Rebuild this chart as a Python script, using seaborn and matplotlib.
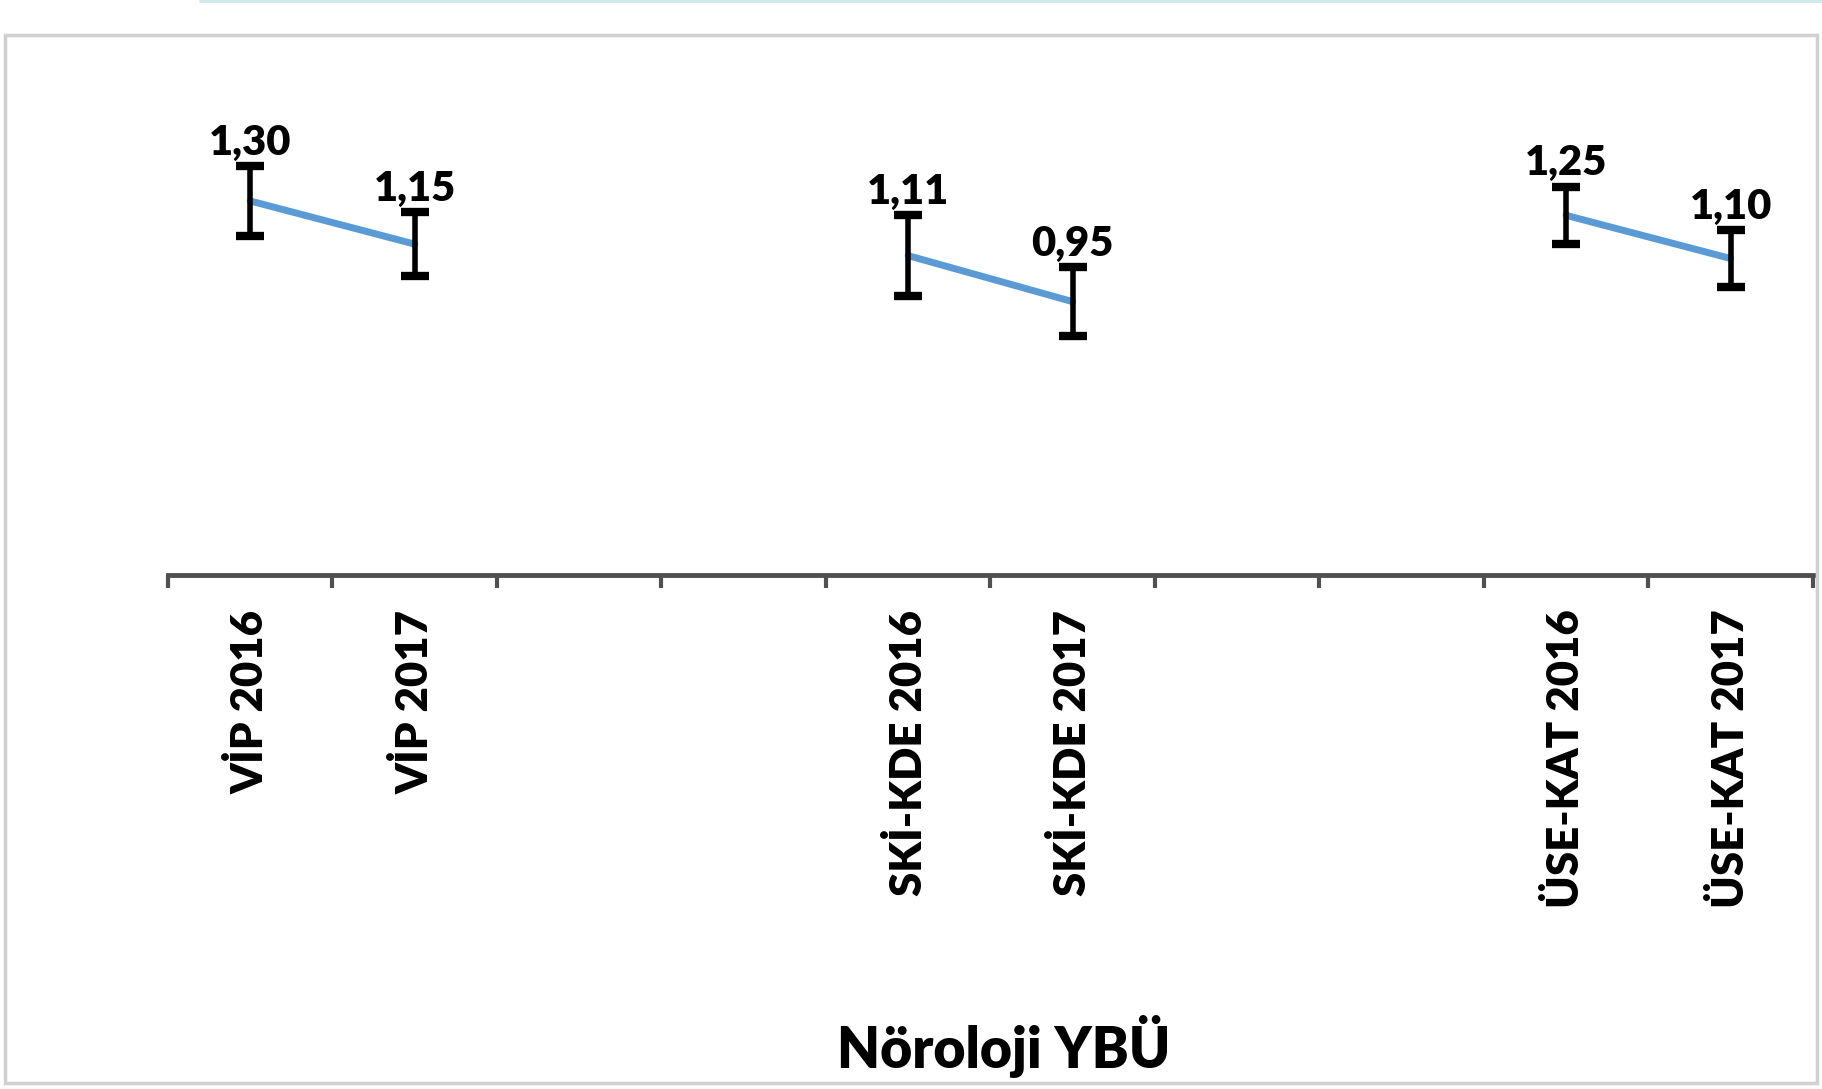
import matplotlib
matplotlib.use("Agg")
import matplotlib.pyplot as plt
import seaborn as sns
import pandas as pd
import numpy as np
from matplotlib.patches import Rectangle
from matplotlib.lines import Line2D

sns.set_theme(style="white")
plt.rcParams["font.family"] = ["Lato", "DejaVu Sans"]

# slots on the category axis (empty ones keep the gaps between groups)
slots = ["VİP 2016", "VİP 2017", " ", "  ",
         "SKİ-KDE 2016", "SKİ-KDE 2017", "   ", "    ",
         "ÜSE-KAT 2016", "ÜSE-KAT 2017"]
categories = ["VİP 2016", "VİP 2017", "SKİ-KDE 2016", "SKİ-KDE 2017", "ÜSE-KAT 2016", "ÜSE-KAT 2017"]
groups = ["VİP", "VİP", "SKİ-KDE", "SKİ-KDE", "ÜSE-KAT", "ÜSE-KAT"]
values = [1.30, 1.15, 1.11, 0.95, 1.25, 1.10]
errors = [0.12, 0.11, 0.14, 0.12, 0.10, 0.10]

df = pd.DataFrame({"cat": categories, "group": groups, "val": values, "err": errors})
df["pos"] = [slots.index(c) for c in df["cat"]]

fig = plt.figure(figsize=(18.22, 10.89), dpi=100)
ax = fig.add_axes([0.0922, 0.472, 0.9028, 0.4227])

sns.lineplot(data=df, x="pos", y="val", units="group", estimator=None,
             color="#5B9BD5", linewidth=5, ax=ax, legend=False)
ax.errorbar(df["pos"], df["val"], yerr=df["err"], fmt="none", ecolor="black",
            elinewidth=4, capsize=10, capthick=6, zorder=3)

for _, r in df.iterrows():
    ax.annotate(f"{r['val']:.2f}".replace(".", ","), (r["pos"], r["val"] + r["err"]),
                xytext=(0, 3), textcoords="offset points", ha="center", va="bottom",
                fontsize=30, fontweight="heavy", color="black")

ax.set_xlim(-0.5, len(slots) - 0.5)
ax.set_ylim(0, 1.6)
ax.set_yticks([])
for s in ["left", "right", "top"]:
    ax.spines[s].set_visible(False)
ax.spines["bottom"].set_color("#505050")
ax.spines["bottom"].set_linewidth(3.5)

ax.set_xticks(np.arange(-0.5, len(slots), 1.0))
ax.set_xticklabels([])
ax.tick_params(axis="x", which="major", direction="out", length=9, width=3,
               color="#505050", bottom=True)
ax.set_xticks(np.arange(len(slots)), minor=True)
ax.set_xticklabels(slots, minor=True, rotation=90, fontsize=31.5, fontweight="heavy",
                   va="top", ha="center", color="black")
ax.tick_params(axis="x", which="minor", length=0, pad=25)

ax.set_xlabel("Nöroloji YBÜ", fontsize=40, fontweight="heavy", va="top", color="black")
ax.xaxis.set_label_coords(0.508, -0.955)
ax.set_ylabel("")

# chart frame
fig.add_artist(Rectangle((5 / 1822, 6 / 1089), 1812 / 1822, 1048 / 1089,
                         transform=fig.transFigure, fill=False,
                         edgecolor="#D0D0D0", linewidth=2.5))
fig.add_artist(Line2D([0.11, 1.0], [0.999, 0.999], transform=fig.transFigure,
                      color="#CFE9E9", linewidth=2))

fig.savefig("out.png", dpi=100, facecolor="white")
